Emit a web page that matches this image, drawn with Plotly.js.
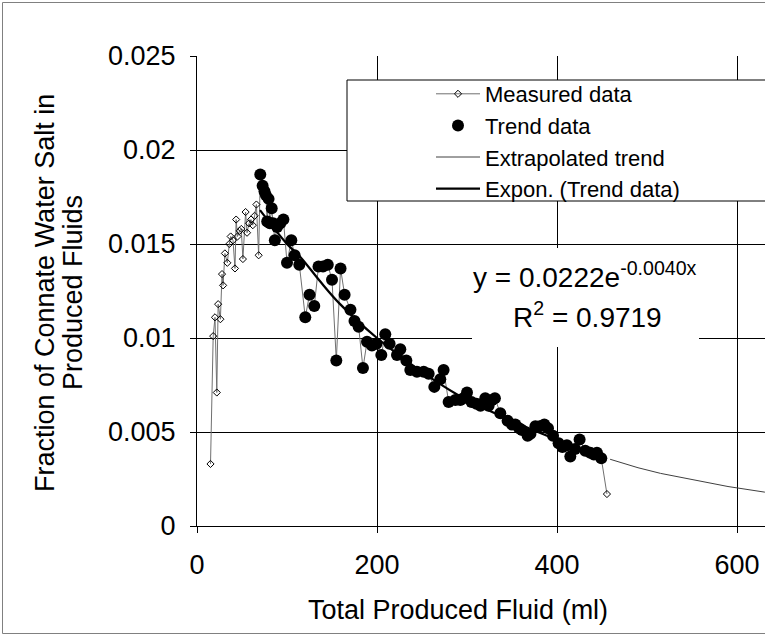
<!DOCTYPE html>
<html>
<head>
<meta charset="utf-8">
<script src="https://cdn.plot.ly/plotly-3.0.1.min.js"></script>
<style>html,body{margin:0;padding:0;background:#fff;}#chart{width:765px;height:637px;}</style>
</head>
<body>
<div id="chart"></div>
<script>
// Measured data before the trend section (open diamonds)
const earlyX = [15, 18, 20, 22, 23.5, 26, 27.8, 29, 31, 33.7, 35.9, 37.4, 40, 42.2, 43.5, 45, 47.4, 49.2, 51, 54, 55.6, 57.8, 60, 62, 64, 66, 68.5];
const earlyY = [0.0033, 0.0101, 0.0111, 0.0071, 0.0118, 0.0110, 0.0134, 0.0128, 0.0145, 0.0140, 0.0150, 0.0154, 0.0152, 0.0137, 0.0163, 0.0154, 0.0157, 0.0158, 0.0142, 0.0167, 0.0156, 0.0161, 0.0163, 0.0160, 0.0165, 0.0171, 0.0144];

// Trend data (filled dots)
const trendX = [70.3, 72.9, 75.0, 76.5, 78.0, 79.5, 81.0, 83.0, 84.5, 86.5, 89.0, 92.5, 96.0, 100.0, 104.8, 108.5, 113.7, 120.3, 125.0, 130.3, 135.0, 140.0, 145.3, 150.0, 154.8, 159.5, 164.0, 170.5, 175.0, 179.6, 184.4, 188.9, 194.4, 199.5, 204.8, 209.2, 214.0, 222.2, 225.9, 232.6, 237.0, 244.4, 251.9, 257.4, 263.7, 270.3, 274.0, 279.6, 287.0, 292.6, 296.0, 300.0, 305.0, 310.5, 315.0, 320.3, 324.0, 327.8, 331.0, 337.0, 345.1, 350.0, 353.7, 358.0, 361.1, 367.4, 370.5, 376.0, 381.0, 385.9, 390.0, 395.6, 401.8, 406.0, 411.0, 414.8, 420.0, 425.1, 431.4, 437.0, 441.0, 444.4, 449.2];
const trendY = [0.0187, 0.0181, 0.0178, 0.0176, 0.0162, 0.0174, 0.0161, 0.0169, 0.0161, 0.0152, 0.0159, 0.0161, 0.0163, 0.0140, 0.0152, 0.0144, 0.0139, 0.0111, 0.0123, 0.0117, 0.0138, 0.0138, 0.0139, 0.0131, 0.0088, 0.0137, 0.0123, 0.0115, 0.0109, 0.0106, 0.0084, 0.0098, 0.0096, 0.0097, 0.0091, 0.0102, 0.0097, 0.0091, 0.0094, 0.0088, 0.0083, 0.0082, 0.0082, 0.0081, 0.0074, 0.0078, 0.0083, 0.0066, 0.0067, 0.0067, 0.0068, 0.0071, 0.0066, 0.0065, 0.0064, 0.0068, 0.0064, 0.0067, 0.0068, 0.0060, 0.0056, 0.0054, 0.0054, 0.0052, 0.0051, 0.0048, 0.0049, 0.0053, 0.0053, 0.0054, 0.0052, 0.0048, 0.0044, 0.0042, 0.0043, 0.0037, 0.0041, 0.0046, 0.0040, 0.0039, 0.0038, 0.0039, 0.0036];

// Last measured point after the trend section
const tailX = [455.5];
const tailY = [0.0017];

// Exponential trendline
const fitX = [70, 100, 115, 137, 159, 200, 250, 289, 322, 389, 450];
const fitY = [0.0168, 0.0150, 0.0143, 0.0130, 0.0118, 0.0100, 0.0082, 0.0070, 0.0062, 0.0048, 0.0037];

// Extrapolated trend
const extrapX = [459, 490, 515, 548, 590, 631];
const extrapY = [0.00355, 0.0031, 0.0028, 0.0025, 0.0021, 0.0018];

const xTicks = [0, 200, 400, 600];
const yTicks = [0, 0.005, 0.01, 0.015, 0.02, 0.025];
const yTickText = ['0', '0.005', '0.01', '0.015', '0.02', '0.025'];

const names = ['Measured data', 'Trend data', 'Extrapolated trend', 'Expon. (Trend data)'];
const xTitle = 'Total Produced Fluid (ml)';
const yTitleLines = ['Fraction of Connate Water Salt in', 'Produced Fluids'];
const eqLines = ['y = 0.0222e<sup>-0.0040x</sup>', 'R<sup>2</sup> = 0.9719'];

const FONT = 'Arial, "Liberation Sans", sans-serif';
const W = 765, H = 637, ML = 197, MR = 0, MT = 56, MB = 111;
const PW = W - ML - MR, PH = H - MT - MB;
const px2x = p => (p - ML) / PW;
const px2y = p => (H - MB - p) / PH;

const traces = [
  {
    x: earlyX.concat(trendX, tailX), y: earlyY.concat(trendY, tailY),
    name: names[0], type: 'scatter', mode: 'lines+markers',
    line: {color: '#707070', width: 1},
    marker: {symbol: 'diamond-open', size: 5.5, color: '#000', line: {width: 1, color: '#000'}}
  },
  {
    x: trendX, y: trendY, name: names[1], type: 'scatter', mode: 'markers',
    marker: {symbol: 'circle', size: 12, color: '#000'}
  },
  {
    x: extrapX, y: extrapY, name: names[2], type: 'scatter', mode: 'lines',
    line: {color: '#404040', width: 1}
  },
  {
    x: fitX, y: fitY, name: names[3], type: 'scatter', mode: 'lines',
    line: {color: '#000', width: 2.25, shape: 'spline'}
  }
];

const annFont = {size: 28, family: FONT, color: '#000'};
const titleFont = {size: 27, family: FONT, color: '#000'};

const layout = {
  width: W, height: H,
  margin: {l: ML, r: MR, t: MT, b: MB},
  paper_bgcolor: '#fff', plot_bgcolor: '#fff',
  font: {family: FONT, color: '#000', size: 22},
  showlegend: true,
  xaxis: {
    range: [0, PW / 0.9], tickvals: xTicks, ticktext: xTicks.map(String),
    showgrid: true, gridcolor: '#000', gridwidth: 1, zeroline: false,
    showline: true, linecolor: '#000', linewidth: 1,
    ticks: 'outside', ticklen: 6, tickcolor: '#000',
    tickfont: {size: 27, family: FONT}, ticklabelstandoff: 9,
    fixedrange: true
  },
  yaxis: {
    range: [0, 0.025], tickvals: yTicks, ticktext: yTickText,
    showgrid: true, gridcolor: '#000', gridwidth: 1, zeroline: false,
    showline: true, linecolor: '#000', linewidth: 1,
    ticks: 'outside', ticklen: 6, tickcolor: '#000',
    tickfont: {size: 27, family: FONT}, ticklabelstandoff: 9,
    fixedrange: true
  },
  legend: {
    x: px2x(431), y: px2y(73), xanchor: 'left', yanchor: 'top',
    bgcolor: 'rgba(0,0,0,0)', borderwidth: 0, itemwidth: 44,
    font: {size: 22, family: FONT, color: '#000'}
  },
  shapes: [
    {type: 'rect', xref: 'paper', yref: 'paper', layer: 'above',
     x0: px2x(347), x1: px2x(775), y0: px2y(80), y1: px2y(201),
     fillcolor: '#fff', line: {color: '#000', width: 1}},
    {type: 'rect', xref: 'paper', yref: 'paper', layer: 'above',
     x0: px2x(472), x1: px2x(699), y0: px2y(248), y1: px2y(347),
     fillcolor: '#fff', line: {width: 0}},
    {type: 'rect', xref: 'paper', yref: 'paper', layer: 'below',
     x0: px2x(2.5), x1: px2x(780), y0: px2y(2.5), y1: px2y(633.5),
     fillcolor: 'rgba(0,0,0,0)', line: {color: '#808080', width: 1}}
  ],
  annotations: [
    {text: eqLines[0], xref: 'paper', yref: 'paper', x: px2x(585), y: px2y(275),
     xanchor: 'center', yanchor: 'middle', align: 'center', showarrow: false, font: annFont},
    {text: eqLines[1], xref: 'paper', yref: 'paper', x: px2x(587.5), y: px2y(315),
     xanchor: 'center', yanchor: 'middle', align: 'center', showarrow: false, font: annFont},
    {text: xTitle, xref: 'paper', yref: 'paper', x: px2x(458), y: px2y(610),
     xanchor: 'center', yanchor: 'middle', showarrow: false, font: titleFont},
    {text: yTitleLines[0], xref: 'paper', yref: 'paper', x: px2x(45), y: px2y(293),
     xanchor: 'center', yanchor: 'middle', textangle: -90, showarrow: false, font: titleFont},
    {text: yTitleLines[1], xref: 'paper', yref: 'paper', x: px2x(73), y: px2y(293),
     xanchor: 'center', yanchor: 'middle', textangle: -90, showarrow: false, font: titleFont}
  ]
};

Plotly.newPlot('chart', traces, layout, {displayModeBar: false, staticPlot: true});
</script>
</body>
</html>
